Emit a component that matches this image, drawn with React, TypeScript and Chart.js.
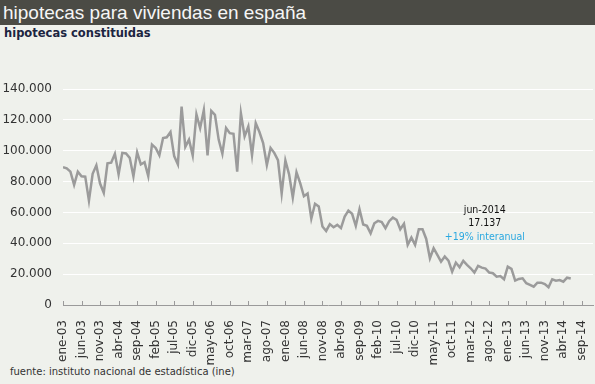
import React, { useEffect, useRef } from 'react';
import { Chart, registerables } from 'chart.js';

Chart.register(...registerables);

// ---- data ----
const TITLE = 'hipotecas para viviendas en españa';
const SUBTITLE = 'hipotecas constituidas';
const SOURCE = 'fuente: instituto nacional de estadística (ine)';

// monthly values, ene-03 .. jun-14
const hipotecas: number[] = [
  89400, 88600, 86400, 77900, 86400, 83400, 83200, 67600, 85000, 90500, 78700, 72700,
  91800, 92200, 98000, 84700, 98600, 98200, 95400, 83400, 99000, 91100, 92600, 83600,
  104000, 101800, 97100, 108200, 108700, 112100, 96500, 91100, 128600, 102500, 107200, 96900,
  123600, 114700, 126400, 96900, 125800, 123200, 107200, 98000, 114700, 111400, 111000, 86400,
  124300, 109300, 115700, 97100, 117900, 112100, 105000, 90700, 101800, 98600, 93900, 72300,
  93700, 84700, 69700, 86000, 79000, 70500, 72300, 56000, 65600, 63800, 50900, 48000,
  52400, 50400, 51900, 49800, 57300, 61200, 59100, 51300, 62100, 52200, 51300, 46500,
  53000, 54500, 53700, 49800, 54300, 56700, 55200, 49100, 52600, 39000, 43700, 39000,
  49100, 49100, 42800, 30300, 36800, 32500, 28100, 31400, 28800, 21600, 27500, 24500,
  28600, 26000, 23800, 21000, 25300, 24200, 23600, 21000, 20600, 18400, 18800, 16700,
  24900, 23400, 15800, 16900, 17300, 14100, 13000, 11900, 14500, 14500, 13600, 11500,
  16700, 15800, 16200, 15100, 17700, 17137,
];

// tick labels every 5 months starting at ene-03
const xTickLabels: string[] = [
  'ene-03', 'jun-03', 'nov-03', 'abr-04', 'sep-04', 'feb-05', 'jul-05', 'dic-05',
  'may-06', 'oct-06', 'mar-07', 'ago-07', 'ene-08', 'jun-08', 'nov-08', 'abr-09',
  'sep-09', 'feb-10', 'jul-10', 'dic-10', 'may-11', 'oct-11', 'mar-12', 'ago-12',
  'ene-13', 'jun-13', 'nov-13', 'abr-14', 'sep-14',
];
const X_TICK_STEP = 5;
const X_MAX = 143; // dic-14

const Y_MAX = 140000;
const Y_STEP = 20000;

const annotationLines: string[] = ['jun-2014', '17.137', '+19% interanual'];
const ANNOT_X = 113.8;
const ANNOT_Y = 61500;

const fmt = (v: number) => String(v).replace(/\B(?=(\d{3})+(?!\d))/g, '.');

const overlayPlugin = {
  id: 'overlay',
  afterDraw(chart: any) {
    const { ctx } = chart;
    const x = chart.scales.x;
    const y = chart.scales.y;
    ctx.save();
    // inward tick marks on x axis
    ctx.strokeStyle = '#9a9a9a';
    ctx.lineWidth = 1;
    const base = Math.round(y.getPixelForValue(0));
    x.ticks.forEach((t: any) => {
      const px = Math.round(x.getPixelForValue(t.value)) + 0.5;
      ctx.beginPath();
      ctx.moveTo(px, base);
      ctx.lineTo(px, base - 4);
      ctx.stroke();
    });
    // annotation
    ctx.font = '10.5px "DejaVu Sans Condensed", "DejaVu Sans"';
    ctx.textAlign = 'center';
    ctx.textBaseline = 'middle';
    const ax = x.getPixelForValue(ANNOT_X);
    const ay = y.getPixelForValue(ANNOT_Y);
    annotationLines.forEach((line, i) => {
      ctx.fillStyle = i === 2 ? '#2aa8e0' : '#111111';
      ctx.fillText(line, ax, ay + i * 13.5);
    });
    ctx.restore();
  },
};

export default function App() {
  const canvasRef = useRef<HTMLCanvasElement | null>(null);

  useEffect(() => {
    document.body.style.margin = '0';
    const canvas = canvasRef.current;
    if (!canvas) return;
    const chart = new Chart(canvas, {
      type: 'line',
      data: {
        datasets: [
          {
            data: hipotecas.map((v, i) => ({ x: i, y: v })),
            borderColor: '#9b9b9b',
            borderWidth: 2.5,
            pointRadius: 0,
            tension: 0,
            fill: false,
          },
        ],
      },
      options: {
        responsive: false,
        animation: false,
        devicePixelRatio: 1,
        layout: { padding: { top: 49, right: 2, left: 0, bottom: 0 } },
        plugins: {
          legend: { display: false },
          title: { display: false },
          tooltip: { enabled: false },
        },
        scales: {
          x: {
            type: 'linear',
            min: 0,
            max: X_MAX,
            grid: { display: false },
            border: { display: true, color: '#9a9a9a', width: 1 },
            afterBuildTicks: (axis: any) => {
              axis.ticks = axis.ticks.filter((t: any) => t.value % X_TICK_STEP === 0);
            },
            afterFit: (axis: any) => {
              axis.height = 60;
              axis.paddingLeft = 0;
              axis.paddingRight = 0;
            },
            ticks: {
              stepSize: X_TICK_STEP,
              includeBounds: false,
              autoSkip: false,
              maxRotation: 90,
              minRotation: 90,
              padding: 7,
              color: '#333333',
              font: { family: 'DejaVu Sans', size: 12 },
              callback: (v: any) => xTickLabels[Math.round(Number(v) / X_TICK_STEP)] ?? '',
            },
          },
          y: {
            min: 0,
            max: Y_MAX,
            grid: { color: '#ffffff', lineWidth: 1, drawTicks: false },
            border: { display: false },
            afterFit: (axis: any) => {
              axis.width = 63;
            },
            ticks: {
              stepSize: Y_STEP,
              padding: 11,
              color: '#333333',
              font: { family: 'DejaVu Sans', size: 12 },
              callback: (v: any) => fmt(Number(v)),
            },
          },
        },
      },
      plugins: [overlayPlugin],
    });
    return () => chart.destroy();
  }, []);

  return (
    <div
      style={{
        position: 'relative',
        width: 595,
        height: 384,
        background: '#eff1ec',
        overflow: 'hidden',
      }}
    >
      <style>{'body{margin:0}'}</style>
      <div
        style={{
          height: 25,
          background: '#4b4b45',
          color: '#f6f6f6',
          font: '19px "Liberation Sans"',
          lineHeight: '25px',
          paddingLeft: 3,
          whiteSpace: 'nowrap',
        }}
      >
        {TITLE}
      </div>
      <div
        style={{
          position: 'absolute',
          top: 26,
          left: 4,
          font: 'bold 11.5px "DejaVu Sans"',
          color: '#1c2541',
          whiteSpace: 'nowrap',
        }}
      >
        {SUBTITLE}
      </div>
      <canvas
        ref={canvasRef}
        width={595}
        height={325}
        style={{ position: 'absolute', top: 40, left: 0 }}
      />
      <div
        style={{
          position: 'absolute',
          top: 366,
          left: 10,
          font: '10px "DejaVu Sans"',
          color: '#333333',
          whiteSpace: 'nowrap',
        }}
      >
        {SOURCE}
      </div>
    </div>
  );
}
